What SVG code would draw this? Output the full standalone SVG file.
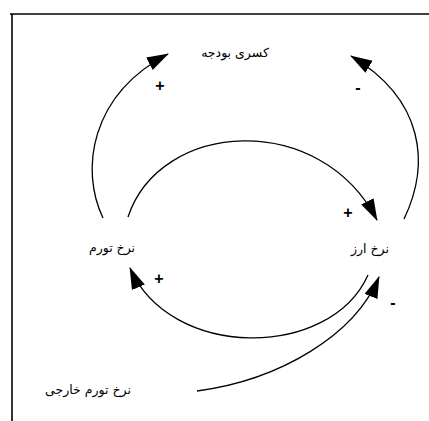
<svg xmlns="http://www.w3.org/2000/svg" width="429" height="421" viewBox="0 0 429 421">
<style>
.frame{stroke:#000;stroke-width:1.6;fill:none}
.link{stroke:#000;stroke-width:1.3;fill:none;marker-end:url(#ah)}
.lbl{font-family:"DejaVu Sans",sans-serif;font-size:12.5px;fill:#000;text-anchor:middle}
.sign{font-family:"Liberation Sans",sans-serif;font-size:16px;font-weight:bold;fill:#000;text-anchor:middle}
</style>
<defs>
<marker id="ah" markerUnits="userSpaceOnUse" markerWidth="24" markerHeight="16" refX="21" refY="7" orient="auto">
<path d="M0,0 L22,7 L0,14 z" fill="#000"/>
</marker>
</defs>
<rect width="429" height="421" fill="#fff"/>
<g id="frame">
<line class="frame" x1="10" y1="14" x2="429" y2="14"/>
<line class="frame" x1="12" y1="14" x2="12" y2="421"/>
</g>
<g id="connectors">
<path class="link" d="M103,218 C80,170 90,95 168,54"/>
<path class="link" d="M404,219 C430,165 425,100 351,56"/>
<path class="link" d="M128,217 C160,120 320,110 377,220"/>
<path class="link" d="M368,275 C330,360 170,360 130,268"/>
<path class="link" d="M197,391 C280,380 355,335 379,277"/>
</g>
<g id="signs">
<text class="sign" x="160" y="91">+</text>
<text class="sign" x="358" y="93">-</text>
<text class="sign" x="348" y="218">+</text>
<text class="sign" x="159" y="284">+</text>
<text class="sign" x="393" y="308">-</text>
</g>
<g id="n-budget"><text class="lbl" x="235" y="57">کسری بودجه</text></g>
<g id="n-inflation"><text class="lbl" x="112" y="252">نرخ تورم</text></g>
<g id="n-exchange"><text class="lbl" x="370" y="253">نرخ ارز</text></g>
<g id="n-foreign"><text class="lbl" x="88" y="394">نرخ تورم خارجی</text></g>
</svg>
